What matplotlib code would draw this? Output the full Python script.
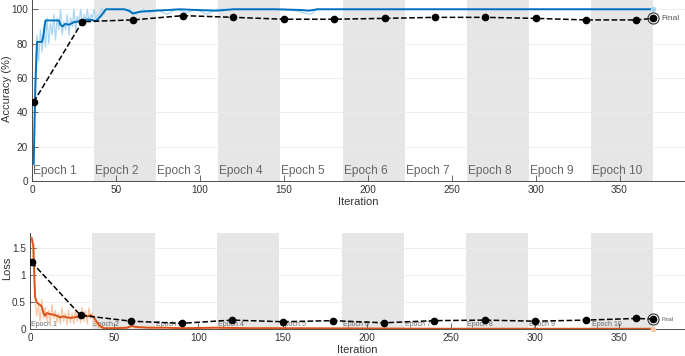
import matplotlib.pyplot as plt

plt.rcParams["font.family"] = ["Liberation Sans", "DejaVu Sans"]

n_epochs = 10
iters_per_epoch = 37
epoch_labels = [f"Epoch {k}" for k in range(1, n_epochs + 1)]

# raw training accuracy (light blue)
raw_it = list(range(1, 46)) + [50, 58, 62, 66, 70, 75, 80, 86, 92, 98, 104, 110, 120, 140, 150, 158, 166, 170, 200, 250, 300, 350, 370]
raw_acc = [10, 65, 85, 70, 88, 75, 90, 78, 95, 80, 92, 85, 97, 82, 95, 88, 100, 85, 93, 88,
           97, 85, 95, 90, 100, 88, 96, 92, 100, 90, 97, 93, 100, 92, 97, 95, 100, 93, 97, 95,
           100, 100, 97, 100, 100, 100, 100, 97, 100, 98, 100, 97, 100, 98, 100, 97, 100, 100,
           100, 100, 99, 97, 100, 100, 100, 100, 100, 100]

# smoothed training accuracy (dark blue)
sm_it = [1, 2, 3, 6, 7, 8, 16, 17, 18, 20, 22, 25, 28, 30, 33, 36, 38, 41, 44, 55, 58, 60, 64, 70,
         80, 88, 100, 110, 120, 145, 160, 165, 170, 200, 250, 300, 370]
sm_acc = [10, 55, 81, 81, 86, 93.5, 93.5, 91, 90, 91.5, 91, 92.5, 93, 93.5, 94, 93.8, 93, 96, 100,
          100, 99, 97.5, 98.5, 99, 99.5, 100, 99.5, 99.2, 100, 100, 99.6, 99.2, 100, 100, 100, 100, 100]

# validation accuracy
val_it = [1, 30, 60, 90, 120, 150, 180, 210, 240, 270, 300, 330, 360, 370]
val_acc = [46, 92.8, 93.8, 96.3, 95.3, 94.2, 94.2, 94.7, 95.3, 95.3, 94.7, 93.8, 93.8, 94.7]

# raw training loss (light orange)
raw_loss_it = list(range(1, 46)) + [50, 56, 60, 63, 67, 72, 80, 90, 100, 112, 125, 140, 160, 200, 240, 280, 320, 360, 370]
raw_loss = [1.72, 1.3, 0.55, 0.25, 0.45, 0.15, 0.55, 0.2, 0.4, 0.15, 0.35, 0.1, 0.45, 0.2, 0.35,
            0.12, 0.3, 0.1, 0.4, 0.15, 0.3, 0.08, 0.35, 0.12, 0.3, 0.1, 0.38, 0.15, 0.3, 0.12,
            0.4, 0.15, 0.35, 0.1, 0.4, 0.2, 0.3, 0.1, 0.15, 0.05, 0.03, 0.02, 0.03, 0.01, 0.02,
            0.02, 0.01, 0.07, 0.02, 0.05, 0.01, 0.03, 0.02, 0.01, 0.03, 0.01, 0.02, 0.01, 0.01,
            0.01, 0.01, 0.01, 0.01, 0.01]

# smoothed training loss (dark orange)
sm_loss_it = [1, 2, 3, 4, 5, 6, 7, 8, 9, 10, 12, 14, 16, 18, 20, 22, 24, 26, 28, 30, 32, 34, 36,
              38, 40, 42, 44, 50, 58, 60, 64, 70, 80, 90, 110, 130, 160, 200, 250, 300, 370]
sm_loss = [1.68, 1.55, 0.6, 0.5, 0.47, 0.45, 0.42, 0.3, 0.25, 0.3, 0.28, 0.27, 0.25, 0.22, 0.24,
           0.22, 0.21, 0.22, 0.23, 0.24, 0.25, 0.24, 0.26, 0.22, 0.12, 0.05, 0.02, 0.02, 0.03,
           0.06, 0.04, 0.03, 0.03, 0.02, 0.03, 0.02, 0.02, 0.015, 0.01, 0.01, 0.01]

# validation loss
val_loss_it = [1, 30, 60, 90, 120, 150, 180, 210, 240, 270, 300, 330, 360, 370]
val_loss = [1.24, 0.26, 0.15, 0.11, 0.17, 0.14, 0.16, 0.12, 0.16, 0.17, 0.15, 0.17, 0.2, 0.19]

blue = "#0072BD"
light_blue = "#A9D5F5"
orange = "#D95319"
light_orange = "#F9C6A3"
shade = "#E6E6E6"
axis_col = "#4D4D4D"

fig = plt.figure(figsize=(6.85, 3.56), dpi=100)
ax1 = fig.add_axes([32 / 685, 1 - 181 / 356, 1 - 32 / 685, 181 / 356])
ax2 = fig.add_axes([30 / 685, 1 - 329.3 / 356, 1 - 30 / 685, (329.3 - 233) / 356])


def style(ax, ylim, yticks, yticklabels, ylabel, label_y, label_size, ylab_pos):
    ax.set_xlim(0, 389)
    ax.set_ylim(*ylim)
    for k in range(n_epochs):
        x0 = k * iters_per_epoch
        if k % 2 == 1:
            ax.axvspan(x0, x0 + iters_per_epoch, color=shade, lw=0, zorder=0)
        ax.text(x0 + 0.6, label_y, epoch_labels[k], fontsize=label_size, color="#666666",
                va="center", ha="left", zorder=1)
    for yv in yticks[1:]:
        ax.axhline(yv, color="#EBEBEB", lw=0.6, zorder=0.5)
    ax.set_yticks(yticks)
    ax.set_yticklabels(yticklabels)
    ax.set_xticks(range(0, 351, 50))
    ax.tick_params(direction="in", length=4, width=0.6, colors=axis_col, labelsize=7.2, pad=3)
    ax.tick_params(axis="x", labelcolor="#333333")
    ax.tick_params(axis="y", labelcolor="#333333")
    for s in ("top", "right"):
        ax.spines[s].set_visible(False)
    for s in ("left", "bottom"):
        ax.spines[s].set_color(axis_col)
        ax.spines[s].set_linewidth(0.7)
    ax.set_xlabel("Iteration", fontsize=8, color="#333333", labelpad=1)
    ax.set_ylabel(ylabel, fontsize=8, color="#333333")
    ax.yaxis.set_label_coords(*ylab_pos)


style(ax1, (0, 105.4), [0, 20, 40, 60, 80, 100], ["0", "20", "40", "60", "80", "100"],
      "Accuracy (%)", 5.8, 8.6, (-0.031, 0.51))
style(ax2, (0, 1.78), [0, 0.5, 1, 1.5], ["0", "0.5", "1", "1.5"], "Loss", 0.09, 5, (-0.027, 0.63))

# accuracy panel
ax1.plot(raw_it, raw_acc, color=light_blue, lw=0.9, zorder=2)
ax1.plot(sm_it, sm_acc, color=blue, lw=1.4, zorder=3)
ax1.plot([sm_it[-1]], [sm_acc[-1]], "o", color=light_blue, ms=3, zorder=3)
ax1.plot(val_it, val_acc, "--", color="black", lw=1.1, marker="o", ms=4.5, zorder=4)
ax1.plot([val_it[-1]], [val_acc[-1]], "o", mfc="none", mec="#333333", ms=8, mew=0.8, zorder=4)
ax1.text(val_it[-1] + 5, val_acc[-1], "Final", fontsize=6, color="#555555", va="center")

# loss panel
ax2.plot(raw_loss_it, raw_loss, color=light_orange, lw=0.9, zorder=2)
ax2.plot(sm_loss_it, sm_loss, color=orange, lw=1.4, zorder=3)
ax2.plot([sm_loss_it[-1]], [sm_loss[-1]], "o", color=light_orange, ms=3, zorder=3, clip_on=False)
ax2.plot(val_loss_it, val_loss, "--", color="black", lw=1.1, marker="o", ms=4.5, zorder=4)
ax2.plot([val_loss_it[-1]], [val_loss[-1]], "o", mfc="none", mec="#333333", ms=8, mew=0.8, zorder=4)
ax2.text(val_loss_it[-1] + 5, val_loss[-1], "Final", fontsize=4, color="#555555", va="center")

fig.savefig("out.png", dpi=100)
